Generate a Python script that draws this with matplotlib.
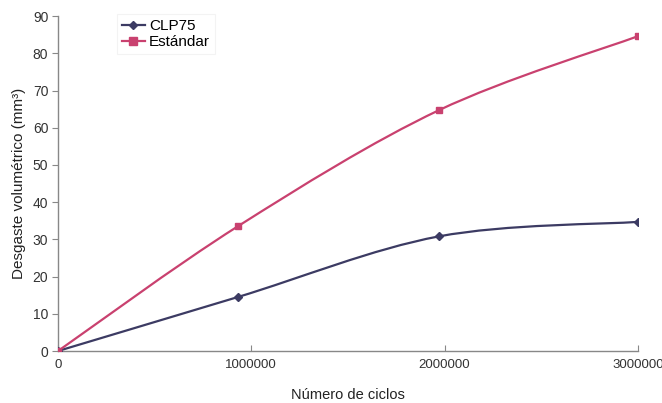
import matplotlib.pyplot as plt
import numpy as np
from matplotlib.path import Path
from matplotlib.patches import PathPatch

plt.rcParams['font.family'] = ['Liberation Sans', 'DejaVu Sans']

# data
ciclos = [0, 930000, 1970000, 3000000]
clp75 = [0, 14.5, 30.8, 34.7]
estandar = [0, 33.5, 64.7, 84.6]

x_ticks = [0, 1000000, 2000000, 3000000]
y_ticks = [0, 10, 20, 30, 40, 50, 60, 70, 80, 90]

COL_CLP = '#3c3b63'
COL_EST = '#c9416f'


# smoothed line like the spreadsheet one (bezier through the points)
def smooth_path(ax, xs, ys, color):
    xs = np.asarray(xs, float)
    ys = np.asarray(ys, float)
    pts = np.column_stack([xs, ys])
    verts = [pts[0]]
    codes = [Path.MOVETO]
    n = len(pts)
    for i in range(n - 1):
        p0 = pts[i - 1] if i > 0 else pts[i]
        p1 = pts[i]
        p2 = pts[i + 1]
        p3 = pts[i + 2] if i + 2 < n else pts[i + 1]
        c1 = p1 + (p2 - p0) / 6
        c2 = p2 - (p3 - p1) / 6
        verts += [c1, c2, p2]
        codes += [Path.CURVE4] * 3
    patch = PathPatch(Path(verts, codes), facecolor='none', edgecolor=color, lw=1.6, zorder=2)
    ax.add_patch(patch)


fig = plt.figure(figsize=(6.62, 4.03), dpi=100)
ax = fig.add_axes([0.0876, 0.129, 0.876, 0.831])

smooth_path(ax, ciclos, clp75, COL_CLP)
smooth_path(ax, ciclos, estandar, COL_EST)
ax.plot(ciclos, clp75, linestyle='none', marker='D', ms=4, color=COL_CLP, zorder=3)
ax.plot(ciclos, estandar, linestyle='none', marker='s', ms=5, color=COL_EST, zorder=3)

# legend handles with line + marker
ax.plot([], [], marker='D', ms=4, color=COL_CLP, lw=1.6, label='CLP75')
ax.plot([], [], marker='s', ms=5.5, color=COL_EST, lw=1.6, label='Estándar')
leg = ax.legend(loc='upper left', bbox_to_anchor=(0.102, 1.005), fontsize=11, frameon=True,
                fancybox=False, handlelength=1.5, handletextpad=0.3, borderpad=0.3,
                labelspacing=0.15, borderaxespad=0)
leg.get_frame().set_edgecolor('#f0f0f0')
leg.get_frame().set_linewidth(0.8)

ax.set_xlim(0, 3000000)
ax.set_ylim(0, 90)
ax.set_xticks(x_ticks)
ax.set_xticklabels([str(t) for t in x_ticks])
ax.set_yticks(y_ticks)

for s in ['top', 'right']:
    ax.spines[s].set_visible(False)
for s in ['left', 'bottom']:
    ax.spines[s].set_color('#888888')
    ax.spines[s].set_linewidth(1.0)

ax.tick_params(axis='y', direction='out', length=4, color='#888888', labelsize=10, labelcolor='#333333', pad=3)
ax.tick_params(axis='x', direction='in', length=4, color='#888888', labelsize=9.5, labelcolor='#333333', pad=6)

ax.set_xlabel('Número de ciclos', fontsize=10.5, color='#222222', labelpad=12)
ax.set_ylabel('Desgaste volumétrico (mm³)', fontsize=11, color='#222222', labelpad=5)

fig.savefig('out.png', dpi=100)
